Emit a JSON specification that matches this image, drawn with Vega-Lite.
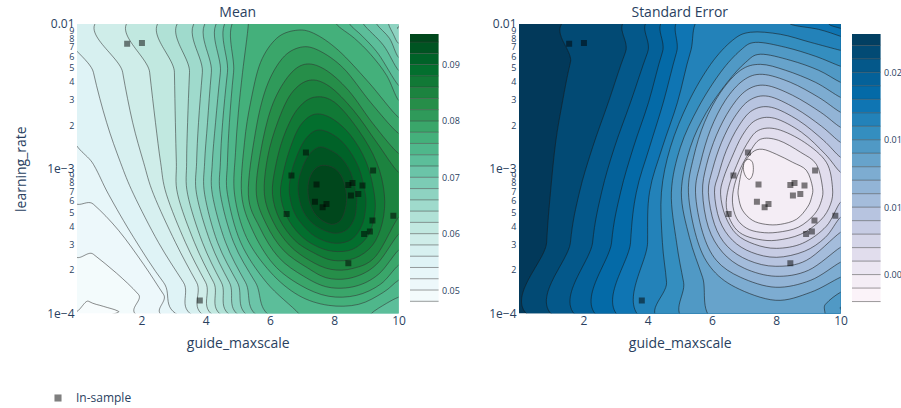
{
"$schema": "https://vega.github.io/schema/vega-lite/v6.json",
"padding": {"left": 14, "top": 6, "right": 5, "bottom": 5},
"background": "white",
"config": {"font": "Open Sans", "view": {"stroke": null}, "axis": {"labelOverlap": false}, "title": {"font": "Open Sans", "fontSize": 14, "fontWeight": "normal", "color": "#2a3f5f", "baseline": "alphabetic", "offset": -2}},
"datasets": {
"pts": [
{"x":1.56,"e":-2.136},{"x":2.02,"e":-2.131},{"x":7.12,"e":-2.889},{"x":6.67,"e":-3.048},{"x":7.45,"e":-3.110},{"x":8.44,"e":-3.113},{"x":8.57,"e":-3.099},{"x":8.88,"e":-3.117},{"x":8.52,"e":-3.186},{"x":8.75,"e":-3.175},{"x":7.40,"e":-3.228},{"x":7.64,"e":-3.267},{"x":7.76,"e":-3.244},{"x":6.52,"e":-3.314},{"x":9.21,"e":-3.013},{"x":9.84,"e":-3.325},{"x":9.19,"e":-3.359},{"x":8.93,"e":-3.452},{"x":9.11,"e":-3.435},{"x":8.44,"e":-3.654},{"x":3.82,"e":-3.912}
],
"mc": [
{"L":0.048,"k":0,"x":-0.26,"e":-3.820},{"L":0.048,"k":1,"x":0.36,"e":-3.917},{"L":0.048,"k":2,"x":0.82,"e":-3.952},{"L":0.048,"k":3,"x":1.29,"e":-3.986},{"L":0.048,"k":4,"x":1.66,"e":-4.048},{"L":0.048,"k":5,"x":10.31,"e":-4.062},{"L":0.048,"k":6,"x":10.31,"e":-1.933},{"L":0.048,"k":7,"x":-0.26,"e":-1.933},
{"L":0.050,"k":0,"x":-0.26,"e":-3.461},{"L":0.050,"k":1,"x":0.51,"e":-3.592},{"L":0.050,"k":2,"x":1.23,"e":-3.723},{"L":0.050,"k":3,"x":1.91,"e":-3.869},{"L":0.050,"k":4,"x":2.53,"e":-4.048},{"L":0.050,"k":5,"x":10.31,"e":-4.062},{"L":0.050,"k":6,"x":10.31,"e":-1.933},{"L":0.050,"k":7,"x":-0.26,"e":-1.933},
{"L":0.052,"k":0,"x":-0.26,"e":-3.122},{"L":0.052,"k":1,"x":0.51,"e":-3.246},{"L":0.052,"k":2,"x":1.29,"e":-3.426},{"L":0.052,"k":3,"x":2.07,"e":-3.661},{"L":0.052,"k":4,"x":2.69,"e":-3.869},{"L":0.052,"k":5,"x":3.25,"e":-4.048},{"L":0.052,"k":6,"x":10.31,"e":-4.062},{"L":0.052,"k":7,"x":10.31,"e":-1.933},{"L":0.052,"k":8,"x":-0.26,"e":-1.933},
{"L":0.054,"k":0,"x":-0.26,"e":-2.700},{"L":0.054,"k":1,"x":0.51,"e":-2.970},{"L":0.054,"k":2,"x":0.98,"e":-3.177},{"L":0.054,"k":3,"x":1.76,"e":-3.475},{"L":0.054,"k":4,"x":2.69,"e":-3.786},{"L":0.054,"k":5,"x":3.72,"e":-4.048},{"L":0.054,"k":6,"x":10.31,"e":-4.062},{"L":0.054,"k":7,"x":10.31,"e":-1.933},{"L":0.054,"k":8,"x":-0.26,"e":-1.933},
{"L":0.056,"k":0,"x":0.17,"e":-1.933},{"L":0.056,"k":1,"x":0.51,"e":-2.334},{"L":0.056,"k":2,"x":0.92,"e":-2.680},{"L":0.056,"k":3,"x":1.35,"e":-2.956},{"L":0.056,"k":4,"x":1.76,"e":-3.177},{"L":0.056,"k":5,"x":2.53,"e":-3.509},{"L":0.056,"k":6,"x":3.31,"e":-3.786},{"L":0.056,"k":7,"x":4.09,"e":-4.048},{"L":0.056,"k":8,"x":10.31,"e":-4.062},{"L":0.056,"k":9,"x":10.31,"e":-1.933},
{"L":0.058,"k":0,"x":1.14,"e":-1.933},{"L":0.058,"k":1,"x":1.42,"e":-2.334},{"L":0.058,"k":2,"x":1.73,"e":-2.680},{"L":0.058,"k":3,"x":2.07,"e":-2.956},{"L":0.058,"k":4,"x":2.38,"e":-3.177},{"L":0.058,"k":5,"x":3.06,"e":-3.509},{"L":0.058,"k":6,"x":3.72,"e":-3.786},{"L":0.058,"k":7,"x":4.40,"e":-4.048},{"L":0.058,"k":8,"x":10.31,"e":-4.062},{"L":0.058,"k":9,"x":10.31,"e":-1.933},
{"L":0.060,"k":0,"x":2.07,"e":-1.933},{"L":0.060,"k":1,"x":2.26,"e":-2.334},{"L":0.060,"k":2,"x":2.44,"e":-2.680},{"L":0.060,"k":3,"x":2.60,"e":-2.956},{"L":0.060,"k":4,"x":2.78,"e":-3.177},{"L":0.060,"k":5,"x":3.37,"e":-3.509},{"L":0.060,"k":6,"x":4.00,"e":-3.786},{"L":0.060,"k":7,"x":4.68,"e":-4.048},{"L":0.060,"k":8,"x":10.31,"e":-4.062},{"L":0.060,"k":9,"x":10.31,"e":-1.933},
{"L":0.062,"k":0,"x":3.00,"e":-1.933},{"L":0.062,"k":1,"x":3.03,"e":-2.334},{"L":0.062,"k":2,"x":3.06,"e":-2.680},{"L":0.062,"k":3,"x":3.09,"e":-2.956},{"L":0.062,"k":4,"x":3.13,"e":-3.177},{"L":0.062,"k":5,"x":3.65,"e":-3.509},{"L":0.062,"k":6,"x":4.25,"e":-3.786},{"L":0.062,"k":7,"x":4.93,"e":-4.048},{"L":0.062,"k":8,"x":10.31,"e":-4.062},{"L":0.062,"k":9,"x":10.31,"e":-1.933},
{"L":0.064,"k":0,"x":3.59,"e":-1.933},{"L":0.064,"k":1,"x":3.50,"e":-2.334},{"L":0.064,"k":2,"x":3.44,"e":-2.680},{"L":0.064,"k":3,"x":3.41,"e":-2.956},{"L":0.064,"k":4,"x":3.44,"e":-3.177},{"L":0.064,"k":5,"x":3.90,"e":-3.509},{"L":0.064,"k":6,"x":4.49,"e":-3.786},{"L":0.064,"k":7,"x":5.18,"e":-4.048},{"L":0.064,"k":8,"x":10.31,"e":-4.062},{"L":0.064,"k":9,"x":10.31,"e":-1.933},
{"L":0.066,"k":0,"x":4.06,"e":-1.933},{"L":0.066,"k":1,"x":3.90,"e":-2.334},{"L":0.066,"k":2,"x":3.78,"e":-2.680},{"L":0.066,"k":3,"x":3.72,"e":-2.956},{"L":0.066,"k":4,"x":3.72,"e":-3.177},{"L":0.066,"k":5,"x":4.15,"e":-3.509},{"L":0.066,"k":6,"x":4.74,"e":-3.786},{"L":0.066,"k":7,"x":5.43,"e":-4.048},{"L":0.066,"k":8,"x":10.31,"e":-4.062},{"L":0.066,"k":9,"x":10.31,"e":-2.057},{"L":0.066,"k":10,"x":9.97,"e":-2.030},{"L":0.066,"k":11,"x":9.91,"e":-1.933},
{"L":0.068,"k":0,"x":4.37,"e":-1.933},{"L":0.068,"k":1,"x":4.18,"e":-2.334},{"L":0.068,"k":2,"x":4.06,"e":-2.680},{"L":0.068,"k":3,"x":3.97,"e":-2.956},{"L":0.068,"k":4,"x":3.97,"e":-3.177},{"L":0.068,"k":5,"x":4.37,"e":-3.509},{"L":0.068,"k":6,"x":4.99,"e":-3.786},{"L":0.068,"k":7,"x":5.68,"e":-4.048},{"L":0.068,"k":8,"x":10.31,"e":-4.062},{"L":0.068,"k":9,"x":10.31,"e":-2.147},{"L":0.068,"k":10,"x":10.0,"e":-2.133},{"L":0.068,"k":11,"x":9.84,"e":-2.071},{"L":0.068,"k":12,"x":9.69,"e":-2.0},{"L":0.068,"k":13,"x":9.66,"e":-1.933},
{"L":0.070,"k":0,"x":4.68,"e":-1.933},{"L":0.070,"k":1,"x":4.46,"e":-2.334},{"L":0.070,"k":2,"x":4.31,"e":-2.680},{"L":0.070,"k":3,"x":4.21,"e":-2.956},{"L":0.070,"k":4,"x":4.21,"e":-3.177},{"L":0.070,"k":5,"x":4.62,"e":-3.509},{"L":0.070,"k":6,"x":5.24,"e":-3.786},{"L":0.070,"k":7,"x":5.96,"e":-4.048},{"L":0.070,"k":8,"x":10.31,"e":-4.062},{"L":0.070,"k":9,"x":10.31,"e":-2.244},{"L":0.070,"k":10,"x":10.0,"e":-2.230},{"L":0.070,"k":11,"x":9.72,"e":-2.099},{"L":0.070,"k":12,"x":9.32,"e":-2.0},{"L":0.070,"k":13,"x":9.29,"e":-1.933},
{"L":0.072,"k":0,"x":4.90,"e":-1.933},{"L":0.072,"k":1,"x":4.68,"e":-2.334},{"L":0.072,"k":2,"x":4.53,"e":-2.680},{"L":0.072,"k":3,"x":4.46,"e":-2.956},{"L":0.072,"k":4,"x":4.46,"e":-3.177},{"L":0.072,"k":5,"x":4.87,"e":-3.509},{"L":0.072,"k":6,"x":5.55,"e":-3.786},{"L":0.072,"k":7,"x":6.33,"e":-4.048},{"L":0.072,"k":8,"x":10.31,"e":-4.062},{"L":0.072,"k":9,"x":10.31,"e":-2.334},{"L":0.072,"k":10,"x":10.0,"e":-2.320},{"L":0.072,"k":11,"x":9.53,"e":-2.147},{"L":0.072,"k":12,"x":8.91,"e":-2.0},{"L":0.072,"k":13,"x":8.88,"e":-1.933},
{"L":0.074,"k":0,"x":5.09,"e":-1.933},{"L":0.074,"k":1,"x":4.87,"e":-2.334},{"L":0.074,"k":2,"x":4.74,"e":-2.680},{"L":0.074,"k":3,"x":4.68,"e":-2.956},{"L":0.074,"k":4,"x":4.68,"e":-3.177},{"L":0.074,"k":5,"x":5.09,"e":-3.509},{"L":0.074,"k":6,"x":5.89,"e":-3.786},{"L":0.074,"k":7,"x":6.89,"e":-4.0},{"L":0.074,"k":8,"x":6.98,"e":-4.062},{"L":0.074,"k":9,"x":9.00,"e":-4.062},{"L":0.074,"k":10,"x":9.16,"e":-4.0},{"L":0.074,"k":11,"x":9.63,"e":-3.931},{"L":0.074,"k":12,"x":10.0,"e":-3.889},{"L":0.074,"k":13,"x":10.31,"e":-3.875},{"L":0.074,"k":14,"x":10.31,"e":-2.438},{"L":0.074,"k":15,"x":10.0,"e":-2.424},{"L":0.074,"k":16,"x":9.38,"e":-2.209},{"L":0.074,"k":17,"x":8.88,"e":-2.085},{"L":0.074,"k":18,"x":8.48,"e":-2.0},{"L":0.074,"k":19,"x":8.44,"e":-1.933},
{"L":0.076,"k":0,"x":5.27,"e":-1.933},{"L":0.076,"k":1,"x":8.13,"e":-1.933},{"L":0.076,"k":2,"x":8.07,"e":-2.0},{"L":0.076,"k":3,"x":8.63,"e":-2.099},{"L":0.076,"k":4,"x":9.13,"e":-2.209},{"L":0.076,"k":5,"x":9.63,"e":-2.355},{"L":0.076,"k":6,"x":10.0,"e":-2.527},{"L":0.076,"k":7,"x":10.31,"e":-2.541},{"L":0.076,"k":8,"x":10.31,"e":-3.758},{"L":0.076,"k":9,"x":10.0,"e":-3.772},{"L":0.076,"k":10,"x":9.53,"e":-3.855},{"L":0.076,"k":11,"x":8.76,"e":-3.938},{"L":0.076,"k":12,"x":7.82,"e":-3.945},{"L":0.076,"k":13,"x":6.89,"e":-3.876},{"L":0.076,"k":14,"x":6.02,"e":-3.716},{"L":0.076,"k":15,"x":5.27,"e":-3.475},{"L":0.076,"k":16,"x":4.90,"e":-3.177},{"L":0.076,"k":17,"x":4.93,"e":-2.887},{"L":0.076,"k":18,"x":5.02,"e":-2.610},{"L":0.076,"k":19,"x":5.15,"e":-2.334},{"L":0.076,"k":20,"x":5.33,"e":-2.0},
{"L":0.078,"k":0,"x":10.31,"e":-2.631},{"L":0.078,"k":1,"x":10.0,"e":-2.645},{"L":0.078,"k":2,"x":9.07,"e":-2.403},{"L":0.078,"k":3,"x":8.13,"e":-2.182},{"L":0.078,"k":4,"x":7.36,"e":-2.064},{"L":0.078,"k":5,"x":6.80,"e":-2.044},{"L":0.078,"k":6,"x":6.21,"e":-2.099},{"L":0.078,"k":7,"x":5.71,"e":-2.265},{"L":0.078,"k":8,"x":5.40,"e":-2.541},{"L":0.078,"k":9,"x":5.21,"e":-2.818},{"L":0.078,"k":10,"x":5.12,"e":-3.177},{"L":0.078,"k":11,"x":5.46,"e":-3.426},{"L":0.078,"k":12,"x":6.11,"e":-3.661},{"L":0.078,"k":13,"x":6.95,"e":-3.806},{"L":0.078,"k":14,"x":7.82,"e":-3.882},{"L":0.078,"k":15,"x":8.69,"e":-3.876},{"L":0.078,"k":16,"x":9.44,"e":-3.799},{"L":0.078,"k":17,"x":10.0,"e":-3.668},{"L":0.078,"k":18,"x":10.31,"e":-3.654},
{"L":0.080,"k":0,"x":10.31,"e":-2.742},{"L":0.080,"k":1,"x":10.0,"e":-2.756},{"L":0.080,"k":2,"x":9.13,"e":-2.541},{"L":0.080,"k":3,"x":8.29,"e":-2.306},{"L":0.080,"k":4,"x":7.51,"e":-2.182},{"L":0.080,"k":5,"x":6.95,"e":-2.161},{"L":0.080,"k":6,"x":6.39,"e":-2.237},{"L":0.080,"k":7,"x":5.89,"e":-2.438},{"L":0.080,"k":8,"x":5.55,"e":-2.749},{"L":0.080,"k":9,"x":5.33,"e":-3.177},{"L":0.080,"k":10,"x":5.68,"e":-3.405},{"L":0.080,"k":11,"x":6.27,"e":-3.613},{"L":0.080,"k":12,"x":7.05,"e":-3.744},{"L":0.080,"k":13,"x":7.82,"e":-3.820},{"L":0.080,"k":14,"x":8.66,"e":-3.813},{"L":0.080,"k":15,"x":9.38,"e":-3.730},{"L":0.080,"k":16,"x":10.0,"e":-3.564},{"L":0.080,"k":17,"x":10.31,"e":-3.551},
{"L":0.082,"k":0,"x":10.31,"e":-2.880},{"L":0.082,"k":1,"x":10.0,"e":-2.894},{"L":0.082,"k":2,"x":9.22,"e":-2.693},{"L":0.082,"k":3,"x":8.44,"e":-2.458},{"L":0.082,"k":4,"x":7.70,"e":-2.313},{"L":0.082,"k":5,"x":7.08,"e":-2.279},{"L":0.082,"k":6,"x":6.55,"e":-2.368},{"L":0.082,"k":7,"x":6.05,"e":-2.576},{"L":0.082,"k":8,"x":5.71,"e":-2.887},{"L":0.082,"k":9,"x":5.58,"e":-3.177},{"L":0.082,"k":10,"x":5.89,"e":-3.385},{"L":0.082,"k":11,"x":6.42,"e":-3.564},{"L":0.082,"k":12,"x":7.14,"e":-3.682},{"L":0.082,"k":13,"x":7.82,"e":-3.758},{"L":0.082,"k":14,"x":8.60,"e":-3.751},{"L":0.082,"k":15,"x":9.32,"e":-3.661},{"L":0.082,"k":16,"x":10.0,"e":-3.454},{"L":0.082,"k":17,"x":10.31,"e":-3.440},
{"L":0.084,"k":0,"x":10.31,"e":-3.012},{"L":0.084,"k":1,"x":10.0,"e":-3.025},{"L":0.084,"k":2,"x":9.32,"e":-2.818},{"L":0.084,"k":3,"x":8.60,"e":-2.597},{"L":0.084,"k":4,"x":7.85,"e":-2.431},{"L":0.084,"k":5,"x":7.23,"e":-2.389},{"L":0.084,"k":6,"x":6.67,"e":-2.479},{"L":0.084,"k":7,"x":6.24,"e":-2.680},{"L":0.084,"k":8,"x":5.93,"e":-2.921},{"L":0.084,"k":9,"x":5.83,"e":-3.177},{"L":0.084,"k":10,"x":6.11,"e":-3.371},{"L":0.084,"k":11,"x":6.61,"e":-3.530},{"L":0.084,"k":12,"x":7.23,"e":-3.634},{"L":0.084,"k":13,"x":7.89,"e":-3.696},{"L":0.084,"k":14,"x":8.60,"e":-3.689},{"L":0.084,"k":15,"x":9.29,"e":-3.606},{"L":0.084,"k":16,"x":10.0,"e":-3.336},{"L":0.084,"k":17,"x":10.31,"e":-3.322},
{"L":0.086,"k":0,"x":9.56,"e":-3.177},{"L":0.086,"k":1,"x":9.32,"e":-2.956},{"L":0.086,"k":2,"x":8.76,"e":-2.735},{"L":0.086,"k":3,"x":8.01,"e":-2.541},{"L":0.086,"k":4,"x":7.36,"e":-2.507},{"L":0.086,"k":5,"x":6.83,"e":-2.597},{"L":0.086,"k":6,"x":6.42,"e":-2.783},{"L":0.086,"k":7,"x":6.17,"e":-2.991},{"L":0.086,"k":8,"x":6.08,"e":-3.177},{"L":0.086,"k":9,"x":6.30,"e":-3.350},{"L":0.086,"k":10,"x":6.77,"e":-3.495},{"L":0.086,"k":11,"x":7.33,"e":-3.578},{"L":0.086,"k":12,"x":7.95,"e":-3.634},{"L":0.086,"k":13,"x":8.63,"e":-3.620},{"L":0.086,"k":14,"x":9.19,"e":-3.530},{"L":0.086,"k":15,"x":9.50,"e":-3.371},
{"L":0.088,"k":0,"x":9.25,"e":-3.177},{"L":0.088,"k":1,"x":9.00,"e":-2.956},{"L":0.088,"k":2,"x":8.51,"e":-2.769},{"L":0.088,"k":3,"x":7.92,"e":-2.652},{"L":0.088,"k":4,"x":7.39,"e":-2.624},{"L":0.088,"k":5,"x":6.95,"e":-2.700},{"L":0.088,"k":6,"x":6.64,"e":-2.852},{"L":0.088,"k":7,"x":6.42,"e":-3.025},{"L":0.088,"k":8,"x":6.33,"e":-3.177},{"L":0.088,"k":9,"x":6.52,"e":-3.329},{"L":0.088,"k":10,"x":6.92,"e":-3.454},{"L":0.088,"k":11,"x":7.39,"e":-3.530},{"L":0.088,"k":12,"x":7.95,"e":-3.571},{"L":0.088,"k":13,"x":8.57,"e":-3.558},{"L":0.088,"k":14,"x":9.04,"e":-3.468},{"L":0.088,"k":15,"x":9.25,"e":-3.329},
{"L":0.090,"k":0,"x":8.97,"e":-3.177},{"L":0.090,"k":1,"x":8.76,"e":-2.991},{"L":0.090,"k":2,"x":8.35,"e":-2.839},{"L":0.090,"k":3,"x":7.89,"e":-2.756},{"L":0.090,"k":4,"x":7.45,"e":-2.735},{"L":0.090,"k":5,"x":7.08,"e":-2.804},{"L":0.090,"k":6,"x":6.80,"e":-2.935},{"L":0.090,"k":7,"x":6.64,"e":-3.060},{"L":0.090,"k":8,"x":6.61,"e":-3.177},{"L":0.090,"k":9,"x":6.77,"e":-3.308},{"L":0.090,"k":10,"x":7.11,"e":-3.412},{"L":0.090,"k":11,"x":7.51,"e":-3.482},{"L":0.090,"k":12,"x":8.04,"e":-3.516},{"L":0.090,"k":13,"x":8.54,"e":-3.489},{"L":0.090,"k":14,"x":8.85,"e":-3.398},{"L":0.090,"k":15,"x":8.97,"e":-3.287},
{"L":0.092,"k":0,"x":8.69,"e":-3.177},{"L":0.092,"k":1,"x":8.51,"e":-3.025},{"L":0.092,"k":2,"x":8.20,"e":-2.921},{"L":0.092,"k":3,"x":7.82,"e":-2.866},{"L":0.092,"k":4,"x":7.51,"e":-2.852},{"L":0.092,"k":5,"x":7.20,"e":-2.908},{"L":0.092,"k":6,"x":6.98,"e":-3.012},{"L":0.092,"k":7,"x":6.89,"e":-3.094},{"L":0.092,"k":8,"x":6.89,"e":-3.177},{"L":0.092,"k":9,"x":7.01,"e":-3.281},{"L":0.092,"k":10,"x":7.26,"e":-3.364},{"L":0.092,"k":11,"x":7.61,"e":-3.419},{"L":0.092,"k":12,"x":8.04,"e":-3.447},{"L":0.092,"k":13,"x":8.41,"e":-3.419},{"L":0.092,"k":14,"x":8.63,"e":-3.343},{"L":0.092,"k":15,"x":8.69,"e":-3.260},
{"L":0.094,"k":0,"x":8.38,"e":-3.177},{"L":0.094,"k":1,"x":8.26,"e":-3.067},{"L":0.094,"k":2,"x":8.01,"e":-2.998},{"L":0.094,"k":3,"x":7.64,"e":-2.977},{"L":0.094,"k":4,"x":7.36,"e":-3.012},{"L":0.094,"k":5,"x":7.20,"e":-3.094},{"L":0.094,"k":6,"x":7.20,"e":-3.198},{"L":0.094,"k":7,"x":7.33,"e":-3.287},{"L":0.094,"k":8,"x":7.57,"e":-3.350},{"L":0.094,"k":9,"x":7.92,"e":-3.385},{"L":0.094,"k":10,"x":8.20,"e":-3.357},{"L":0.094,"k":11,"x":8.35,"e":-3.274}
],
"sc": [
{"L":0.022,"k":0,"x":2.01,"e":-1.933},{"L":0.022,"k":1,"x":1.60,"e":-2.265},{"L":0.022,"k":2,"x":1.35,"e":-2.541},{"L":0.022,"k":3,"x":1.14,"e":-2.818},{"L":0.022,"k":4,"x":0.98,"e":-3.163},{"L":0.022,"k":5,"x":0.86,"e":-3.509},{"L":0.022,"k":6,"x":0.76,"e":-4.062},{"L":0.022,"k":7,"x":10.31,"e":-4.062},{"L":0.022,"k":8,"x":10.31,"e":-1.933},
{"L":0.021,"k":0,"x":3.84,"e":-1.933},{"L":0.021,"k":1,"x":3.31,"e":-2.196},{"L":0.021,"k":2,"x":2.78,"e":-2.541},{"L":0.021,"k":3,"x":2.29,"e":-2.852},{"L":0.021,"k":4,"x":1.88,"e":-3.163},{"L":0.021,"k":5,"x":1.60,"e":-3.509},{"L":0.021,"k":6,"x":1.48,"e":-4.062},{"L":0.021,"k":7,"x":10.31,"e":-4.062},{"L":0.021,"k":8,"x":10.31,"e":-1.933},
{"L":0.020,"k":0,"x":4.49,"e":-1.933},{"L":0.020,"k":1,"x":4.00,"e":-2.196},{"L":0.020,"k":2,"x":3.47,"e":-2.541},{"L":0.020,"k":3,"x":2.97,"e":-2.852},{"L":0.020,"k":4,"x":2.57,"e":-3.163},{"L":0.020,"k":5,"x":2.29,"e":-3.509},{"L":0.020,"k":6,"x":2.16,"e":-4.062},{"L":0.020,"k":7,"x":10.31,"e":-4.062},{"L":0.020,"k":8,"x":10.31,"e":-1.933},
{"L":0.019,"k":0,"x":4.93,"e":-1.933},{"L":0.019,"k":1,"x":4.46,"e":-2.196},{"L":0.019,"k":2,"x":4.03,"e":-2.541},{"L":0.019,"k":3,"x":3.56,"e":-2.852},{"L":0.019,"k":4,"x":3.16,"e":-3.163},{"L":0.019,"k":5,"x":2.88,"e":-3.509},{"L":0.019,"k":6,"x":2.78,"e":-4.062},{"L":0.019,"k":7,"x":10.31,"e":-4.062},{"L":0.019,"k":8,"x":10.31,"e":-1.933},
{"L":0.018,"k":0,"x":5.30,"e":-1.933},{"L":0.018,"k":1,"x":4.90,"e":-2.196},{"L":0.018,"k":2,"x":4.49,"e":-2.541},{"L":0.018,"k":3,"x":4.06,"e":-2.852},{"L":0.018,"k":4,"x":3.65,"e":-3.163},{"L":0.018,"k":5,"x":3.47,"e":-3.509},{"L":0.018,"k":6,"x":3.41,"e":-4.062},{"L":0.018,"k":7,"x":10.31,"e":-4.062},{"L":0.018,"k":8,"x":10.31,"e":-2.057},{"L":0.018,"k":9,"x":10.0,"e":-2.030},{"L":0.018,"k":10,"x":9.63,"e":-2.0},{"L":0.018,"k":11,"x":9.59,"e":-1.933},
{"L":0.017,"k":0,"x":5.80,"e":-1.933},{"L":0.017,"k":1,"x":5.33,"e":-2.196},{"L":0.017,"k":2,"x":4.93,"e":-2.541},{"L":0.017,"k":3,"x":4.46,"e":-2.852},{"L":0.017,"k":4,"x":4.06,"e":-3.163},{"L":0.017,"k":5,"x":4.00,"e":-3.509},{"L":0.017,"k":6,"x":4.03,"e":-4.062},{"L":0.017,"k":7,"x":10.31,"e":-4.062},{"L":0.017,"k":8,"x":10.31,"e":-2.113},{"L":0.017,"k":9,"x":10.0,"e":-2.085},{"L":0.017,"k":10,"x":9.32,"e":-2.037},{"L":0.017,"k":11,"x":8.44,"e":-2.0},{"L":0.017,"k":12,"x":8.41,"e":-1.933},
{"L":0.016,"k":0,"x":4.65,"e":-4.062},{"L":0.016,"k":1,"x":4.59,"e":-3.786},{"L":0.016,"k":2,"x":4.46,"e":-3.509},{"L":0.016,"k":3,"x":4.43,"e":-3.163},{"L":0.016,"k":4,"x":4.71,"e":-2.852},{"L":0.016,"k":5,"x":5.27,"e":-2.541},{"L":0.016,"k":6,"x":5.96,"e":-2.279},{"L":0.016,"k":7,"x":6.64,"e":-2.113},{"L":0.016,"k":8,"x":7.20,"e":-2.057},{"L":0.016,"k":9,"x":8.13,"e":-2.071},{"L":0.016,"k":10,"x":9.07,"e":-2.127},{"L":0.016,"k":11,"x":10.0,"e":-2.182},{"L":0.016,"k":12,"x":10.31,"e":-2.196},{"L":0.016,"k":13,"x":10.31,"e":-4.062},
{"L":0.015,"k":0,"x":5.37,"e":-4.062},{"L":0.015,"k":1,"x":5.12,"e":-3.786},{"L":0.015,"k":2,"x":4.90,"e":-3.509},{"L":0.015,"k":3,"x":4.74,"e":-3.163},{"L":0.015,"k":4,"x":5.02,"e":-2.852},{"L":0.015,"k":5,"x":5.58,"e":-2.576},{"L":0.015,"k":6,"x":6.27,"e":-2.334},{"L":0.015,"k":7,"x":6.89,"e":-2.182},{"L":0.015,"k":8,"x":7.36,"e":-2.127},{"L":0.015,"k":9,"x":8.29,"e":-2.161},{"L":0.015,"k":10,"x":9.22,"e":-2.223},{"L":0.015,"k":11,"x":10.0,"e":-2.292},{"L":0.015,"k":12,"x":10.31,"e":-2.306},{"L":0.015,"k":13,"x":10.31,"e":-3.945},{"L":0.015,"k":14,"x":10.0,"e":-3.958},{"L":0.015,"k":15,"x":9.78,"e":-4.062},
{"L":0.014,"k":0,"x":6.17,"e":-4.062},{"L":0.014,"k":1,"x":5.71,"e":-3.751},{"L":0.014,"k":2,"x":5.30,"e":-3.475},{"L":0.014,"k":3,"x":5.05,"e":-3.163},{"L":0.014,"k":4,"x":5.33,"e":-2.852},{"L":0.014,"k":5,"x":5.83,"e":-2.610},{"L":0.014,"k":6,"x":6.48,"e":-2.403},{"L":0.014,"k":7,"x":7.05,"e":-2.265},{"L":0.014,"k":8,"x":7.51,"e":-2.209},{"L":0.014,"k":9,"x":8.44,"e":-2.251},{"L":0.014,"k":10,"x":9.32,"e":-2.320},{"L":0.014,"k":11,"x":10.0,"e":-2.403},{"L":0.014,"k":12,"x":10.31,"e":-2.417},{"L":0.014,"k":13,"x":10.31,"e":-3.841},{"L":0.014,"k":14,"x":10.0,"e":-3.855},{"L":0.014,"k":15,"x":9.53,"e":-3.938},{"L":0.014,"k":16,"x":9.19,"e":-4.062},
{"L":0.013,"k":0,"x":5.27,"e":-3.163},{"L":0.013,"k":1,"x":5.43,"e":-2.921},{"L":0.013,"k":2,"x":5.77,"e":-2.680},{"L":0.013,"k":3,"x":6.27,"e":-2.472},{"L":0.013,"k":4,"x":6.89,"e":-2.320},{"L":0.013,"k":5,"x":7.51,"e":-2.279},{"L":0.013,"k":6,"x":8.29,"e":-2.320},{"L":0.013,"k":7,"x":9.22,"e":-2.403},{"L":0.013,"k":8,"x":10.0,"e":-2.507},{"L":0.013,"k":9,"x":10.31,"e":-2.520},{"L":0.013,"k":10,"x":10.31,"e":-3.737},{"L":0.013,"k":11,"x":10.0,"e":-3.751},{"L":0.013,"k":12,"x":9.07,"e":-3.855},{"L":0.013,"k":13,"x":7.98,"e":-3.910},{"L":0.013,"k":14,"x":6.73,"e":-3.820},{"L":0.013,"k":15,"x":5.96,"e":-3.682},{"L":0.013,"k":16,"x":5.52,"e":-3.475},
{"L":0.012,"k":0,"x":5.49,"e":-3.163},{"L":0.012,"k":1,"x":5.65,"e":-2.956},{"L":0.012,"k":2,"x":5.96,"e":-2.728},{"L":0.012,"k":3,"x":6.42,"e":-2.527},{"L":0.012,"k":4,"x":6.98,"e":-2.389},{"L":0.012,"k":5,"x":7.57,"e":-2.348},{"L":0.012,"k":6,"x":8.44,"e":-2.403},{"L":0.012,"k":7,"x":9.32,"e":-2.507},{"L":0.012,"k":8,"x":10.0,"e":-2.610},{"L":0.012,"k":9,"x":10.31,"e":-2.624},{"L":0.012,"k":10,"x":10.31,"e":-3.634},{"L":0.012,"k":11,"x":10.0,"e":-3.647},{"L":0.012,"k":12,"x":9.07,"e":-3.772},{"L":0.012,"k":13,"x":7.98,"e":-3.820},{"L":0.012,"k":14,"x":6.89,"e":-3.751},{"L":0.012,"k":15,"x":6.14,"e":-3.634},{"L":0.012,"k":16,"x":5.71,"e":-3.440},
{"L":0.011,"k":0,"x":5.71,"e":-3.163},{"L":0.011,"k":1,"x":5.83,"e":-2.977},{"L":0.011,"k":2,"x":6.14,"e":-2.769},{"L":0.011,"k":3,"x":6.58,"e":-2.583},{"L":0.011,"k":4,"x":7.08,"e":-2.458},{"L":0.011,"k":5,"x":7.67,"e":-2.424},{"L":0.011,"k":6,"x":8.51,"e":-2.493},{"L":0.011,"k":7,"x":9.38,"e":-2.610},{"L":0.011,"k":8,"x":10.0,"e":-2.714},{"L":0.011,"k":9,"x":10.31,"e":-2.728},{"L":0.011,"k":10,"x":10.31,"e":-3.530},{"L":0.011,"k":11,"x":10.0,"e":-3.544},{"L":0.011,"k":12,"x":9.00,"e":-3.703},{"L":0.011,"k":13,"x":7.98,"e":-3.744},{"L":0.011,"k":14,"x":7.01,"e":-3.689},{"L":0.011,"k":15,"x":6.33,"e":-3.578},{"L":0.011,"k":16,"x":5.89,"e":-3.405},
{"L":0.010,"k":0,"x":5.89,"e":-3.163},{"L":0.010,"k":1,"x":6.02,"e":-3.005},{"L":0.010,"k":2,"x":6.30,"e":-2.818},{"L":0.010,"k":3,"x":6.70,"e":-2.645},{"L":0.010,"k":4,"x":7.17,"e":-2.527},{"L":0.010,"k":5,"x":7.76,"e":-2.500},{"L":0.010,"k":6,"x":8.60,"e":-2.583},{"L":0.010,"k":7,"x":9.41,"e":-2.707},{"L":0.010,"k":8,"x":10.0,"e":-2.818},{"L":0.010,"k":9,"x":10.31,"e":-2.832},{"L":0.010,"k":10,"x":10.31,"e":-3.426},{"L":0.010,"k":11,"x":10.0,"e":-3.440},{"L":0.010,"k":12,"x":8.94,"e":-3.634},{"L":0.010,"k":13,"x":7.98,"e":-3.675},{"L":0.010,"k":14,"x":7.14,"e":-3.634},{"L":0.010,"k":15,"x":6.48,"e":-3.537},{"L":0.010,"k":16,"x":6.08,"e":-3.385},
{"L":0.009,"k":0,"x":6.08,"e":-3.163},{"L":0.009,"k":1,"x":6.21,"e":-3.039},{"L":0.009,"k":2,"x":6.45,"e":-2.873},{"L":0.009,"k":3,"x":6.83,"e":-2.707},{"L":0.009,"k":4,"x":7.26,"e":-2.597},{"L":0.009,"k":5,"x":7.85,"e":-2.576},{"L":0.009,"k":6,"x":8.69,"e":-2.666},{"L":0.009,"k":7,"x":9.47,"e":-2.804},{"L":0.009,"k":8,"x":10.0,"e":-2.921},{"L":0.009,"k":9,"x":10.31,"e":-2.935},{"L":0.009,"k":10,"x":10.31,"e":-3.322},{"L":0.009,"k":11,"x":10.0,"e":-3.336},{"L":0.009,"k":12,"x":9.53,"e":-3.475},{"L":0.009,"k":13,"x":8.88,"e":-3.571},{"L":0.009,"k":14,"x":8.01,"e":-3.613},{"L":0.009,"k":15,"x":7.23,"e":-3.578},{"L":0.009,"k":16,"x":6.64,"e":-3.495},{"L":0.009,"k":17,"x":6.24,"e":-3.357},
{"L":0.008,"k":0,"x":6.27,"e":-3.177},{"L":0.008,"k":1,"x":6.36,"e":-3.067},{"L":0.008,"k":2,"x":6.61,"e":-2.928},{"L":0.008,"k":3,"x":6.95,"e":-2.769},{"L":0.008,"k":4,"x":7.36,"e":-2.666},{"L":0.008,"k":5,"x":7.95,"e":-2.652},{"L":0.008,"k":6,"x":8.79,"e":-2.749},{"L":0.008,"k":7,"x":9.53,"e":-2.901},{"L":0.008,"k":8,"x":10.0,"e":-3.025},{"L":0.008,"k":9,"x":10.31,"e":-3.039},{"L":0.008,"k":10,"x":10.31,"e":-3.219},{"L":0.008,"k":11,"x":10.0,"e":-3.232},{"L":0.008,"k":12,"x":9.56,"e":-3.398},{"L":0.008,"k":13,"x":8.82,"e":-3.516},{"L":0.008,"k":14,"x":8.01,"e":-3.551},{"L":0.008,"k":15,"x":7.33,"e":-3.523},{"L":0.008,"k":16,"x":6.77,"e":-3.454},{"L":0.008,"k":17,"x":6.42,"e":-3.329},
{"L":0.007,"k":0,"x":6.52,"e":-3.129},{"L":0.007,"k":1,"x":6.77,"e":-2.977},{"L":0.007,"k":2,"x":7.08,"e":-2.832},{"L":0.007,"k":3,"x":7.45,"e":-2.735},{"L":0.007,"k":4,"x":8.04,"e":-2.728},{"L":0.007,"k":5,"x":8.88,"e":-2.818},{"L":0.007,"k":6,"x":9.56,"e":-2.956},{"L":0.007,"k":7,"x":9.75,"e":-3.129},{"L":0.007,"k":8,"x":9.69,"e":-3.246},{"L":0.007,"k":9,"x":9.38,"e":-3.357},{"L":0.007,"k":10,"x":8.76,"e":-3.454},{"L":0.007,"k":11,"x":8.01,"e":-3.495},{"L":0.007,"k":12,"x":7.45,"e":-3.489},{"L":0.007,"k":13,"x":6.95,"e":-3.454},{"L":0.007,"k":14,"x":6.64,"e":-3.385},{"L":0.007,"k":15,"x":6.45,"e":-3.267},
{"L":0.006,"k":0,"x":6.64,"e":-3.232},{"L":0.006,"k":1,"x":6.70,"e":-3.115},{"L":0.006,"k":2,"x":6.89,"e":-2.998},{"L":0.006,"k":3,"x":7.17,"e":-2.887},{"L":0.006,"k":4,"x":7.51,"e":-2.797},{"L":0.006,"k":5,"x":8.07,"e":-2.804},{"L":0.006,"k":6,"x":8.76,"e":-2.887},{"L":0.006,"k":7,"x":9.25,"e":-2.970},{"L":0.006,"k":8,"x":9.44,"e":-3.129},{"L":0.006,"k":9,"x":9.41,"e":-3.219},{"L":0.006,"k":10,"x":9.19,"e":-3.315},{"L":0.006,"k":11,"x":8.69,"e":-3.405},{"L":0.006,"k":12,"x":8.04,"e":-3.440},{"L":0.006,"k":13,"x":7.51,"e":-3.440},{"L":0.006,"k":14,"x":7.08,"e":-3.412},{"L":0.006,"k":15,"x":6.77,"e":-3.343},
{"L":0.005,"k":0,"x":6.83,"e":-3.129},{"L":0.005,"k":1,"x":6.98,"e":-2.977},{"L":0.005,"k":2,"x":7.26,"e":-2.887},{"L":0.005,"k":3,"x":7.57,"e":-2.866},{"L":0.005,"k":4,"x":8.01,"e":-2.901},{"L":0.005,"k":5,"x":8.51,"e":-2.956},{"L":0.005,"k":6,"x":8.94,"e":-3.012},{"L":0.005,"k":7,"x":9.13,"e":-3.129},{"L":0.005,"k":8,"x":9.10,"e":-3.198},{"L":0.005,"k":9,"x":8.97,"e":-3.267},{"L":0.005,"k":10,"x":8.63,"e":-3.350},{"L":0.005,"k":11,"x":8.13,"e":-3.385},{"L":0.005,"k":12,"x":7.67,"e":-3.385},{"L":0.005,"k":13,"x":7.26,"e":-3.357},{"L":0.005,"k":14,"x":6.95,"e":-3.287},{"L":0.005,"k":15,"x":6.83,"e":-3.198},
{"L":0.004,"k":0,"x":7.29,"e":-3.005},{"L":0.004,"k":1,"x":7.26,"e":-2.956},{"L":0.004,"k":2,"x":7.14,"e":-2.935},{"L":0.004,"k":3,"x":7.01,"e":-2.956},{"L":0.004,"k":4,"x":6.98,"e":-3.005},{"L":0.004,"k":5,"x":7.05,"e":-3.053},{"L":0.004,"k":6,"x":7.17,"e":-3.074},{"L":0.004,"k":7,"x":7.26,"e":-3.046}
],
"mbar": [
{"lo":0.04782,"hi":0.048},{"lo":0.048,"hi":0.050},{"lo":0.050,"hi":0.052},{"lo":0.052,"hi":0.054},{"lo":0.054,"hi":0.056},{"lo":0.056,"hi":0.058},{"lo":0.058,"hi":0.060},{"lo":0.060,"hi":0.062},{"lo":0.062,"hi":0.064},{"lo":0.064,"hi":0.066},{"lo":0.066,"hi":0.068},{"lo":0.068,"hi":0.070},{"lo":0.070,"hi":0.072},{"lo":0.072,"hi":0.074},{"lo":0.074,"hi":0.076},{"lo":0.076,"hi":0.078},{"lo":0.078,"hi":0.080},{"lo":0.080,"hi":0.082},{"lo":0.082,"hi":0.084},{"lo":0.084,"hi":0.086},{"lo":0.086,"hi":0.088},{"lo":0.088,"hi":0.090},{"lo":0.090,"hi":0.092},{"lo":0.092,"hi":0.094},{"lo":0.094,"hi":0.09543}
],
"sbar": [
{"lo":0.002945,"hi":0.003},{"lo":0.003,"hi":0.004},{"lo":0.004,"hi":0.005},{"lo":0.005,"hi":0.006},{"lo":0.006,"hi":0.007},{"lo":0.007,"hi":0.008},{"lo":0.008,"hi":0.009},{"lo":0.009,"hi":0.010},{"lo":0.010,"hi":0.011},{"lo":0.011,"hi":0.012},{"lo":0.012,"hi":0.013},{"lo":0.013,"hi":0.014},{"lo":0.014,"hi":0.015},{"lo":0.015,"hi":0.016},{"lo":0.016,"hi":0.017},{"lo":0.017,"hi":0.018},{"lo":0.018,"hi":0.019},{"lo":0.019,"hi":0.020},{"lo":0.020,"hi":0.021},{"lo":0.021,"hi":0.022},{"lo":0.022,"hi":0.022841}
]
},
"spacing": 28,
"resolve": {"scale": {"fill": "independent"}},
"hconcat": [
{"spacing": 3, "resolve": {"scale": {"fill": "independent"}}, "hconcat": [
 {"width": 321.5, "height": 289.3, "title": {"text": "Mean"}, "view": {"fill": "#f7fcfd"},
  "layer": [
   {"data": {"name": "mc"}, "mark": {"type": "line", "interpolate": "cardinal-closed", "stroke": "#333333", "strokeWidth": 0.8, "strokeOpacity": 0.7, "clip": true},
    "encoding": {
     "x": {"field": "x", "type": "quantitative", "scale": {"domain": [0, 10], "nice": false, "zero": false}, "axis": {"values": [2,4,6,8,10], "labelFlush": false, "ticks": false, "domain": false, "grid": false, "labelFontSize": 12, "labelColor": "#2a3f5f", "labelPadding": 2, "title": "guide_maxscale", "titleFontSize": 14, "titleFontWeight": "normal", "titleColor": "#2a3f5f", "titlePadding": 10}},
     "y": {"field": "e", "type": "quantitative", "scale": {"domain": [-4, -2], "nice": false, "zero": false}, "axis": {"values": [-4,-3.69897,-3.52288,-3.39794,-3.30103,-3.22185,-3.1549,-3.09691,-3.04576,-3,-2.69897,-2.52288,-2.39794,-2.30103,-2.22185,-2.1549,-2.09691,-2.04576,-2], "tickCount": 100, "labelExpr": "datum.value == -2 ? '0.01' : datum.value == -3 ? '1e\u22123' : datum.value == -4 ? '1e\u22124' : format(round(pow(10, datum.value - floor(datum.value))), 'd')", "labelFontSize": {"condition": {"test": "datum.value == -2 || datum.value == -3 || datum.value == -4", "value": 12}, "value": 9}, "labelOverlap": false, "ticks": false, "domain": false, "grid": false, "labelColor": "#2a3f5f", "labelPadding": 3, "title": "learning_rate", "titleFontSize": 14, "titleFontWeight": "normal", "titleColor": "#2a3f5f", "titlePadding": 18}},
     "detail": {"field": "L", "type": "nominal"},
     "order": {"field": "k", "type": "quantitative"},
     "fill": {"field": "L", "type": "quantitative", "scale": {"domain": [0.04682, 0.052771, 0.058722, 0.064674, 0.070625, 0.076576, 0.082527, 0.088479, 0.09443], "range": ["#f7fcfd","#e5f5f9","#ccece6","#99d8c9","#66c2a4","#41ae76","#238b45","#006d2c","#00441b"]}, "legend": null}
    }},
   {"data": {"name": "pts"}, "mark": {"type": "point", "filled": true, "size": 36, "color": "black", "opacity": 0.5, "strokeWidth": 0, "clip": true},
    "encoding": {
     "x": {"field": "x", "type": "quantitative"},
     "y": {"field": "e", "type": "quantitative"},
     "shape": {"datum": "In-sample", "scale": {"range": ["square"]}, "legend": {"orient": "none", "legendX": -25, "legendY": 368, "title": null, "padding": 0, "labelFont": "Open Sans", "labelFontSize": 12, "labelColor": "#2a3f5f", "symbolFillColor": "black", "symbolOpacity": 0.5, "symbolStrokeWidth": 0, "symbolSize": 50, "labelOffset": 12}}
    }}
  ]},
 {"width": 28.6, "height": 289.3,
  "layer": [
   {"data": {"name": "mbar"}, "mark": {"type": "rect"},
    "encoding": {
     "x": {"datum": 0, "type": "quantitative", "scale": {"domain": [0, 1], "nice": false}, "axis": null},
     "x2": {"datum": 1},
     "y": {"field": "lo", "type": "quantitative", "scale": {"domain": [0.04587, 0.0972], "nice": false, "zero": false}, "axis": {"orient": "right", "values": [0.05,0.06,0.07,0.08,0.09], "format": "~g", "ticks": false, "domain": false, "grid": false, "labelFontSize": 9, "labelColor": "#2a3f5f", "labelPadding": 3, "title": null}},
     "y2": {"field": "hi"},
     "fill": {"field": "lo", "type": "quantitative", "scale": {"domain": [0.04682, 0.052771, 0.058722, 0.064674, 0.070625, 0.076576, 0.082527, 0.088479, 0.09443], "range": ["#f7fcfd","#e5f5f9","#ccece6","#99d8c9","#66c2a4","#41ae76","#238b45","#006d2c","#00441b"]}, "legend": null}
    }},
   {"data": {"name": "mbar"}, "transform": [{"filter": "datum.lo >= 0.048 && datum.lo < 0.0949"}], "mark": {"type": "rule", "stroke": "#333333", "strokeWidth": 0.8, "strokeOpacity": 0.6},
    "encoding": {"y": {"field": "lo", "type": "quantitative"}}}
  ]}
]},
{"spacing": 3, "resolve": {"scale": {"fill": "independent"}}, "hconcat": [
 {"width": 321.5, "height": 289.3, "title": {"text": "Standard Error"}, "view": {"fill": "#02395a"},
  "layer": [
   {"data": {"name": "sc"}, "mark": {"type": "line", "interpolate": "cardinal-closed", "stroke": "#1a1a1a", "strokeWidth": 0.8, "strokeOpacity": 0.7, "clip": true},
    "encoding": {
     "x": {"field": "x", "type": "quantitative", "scale": {"domain": [0, 10], "nice": false, "zero": false}, "axis": {"values": [2,4,6,8,10], "labelFlush": false, "ticks": false, "domain": false, "grid": false, "labelFontSize": 12, "labelColor": "#2a3f5f", "labelPadding": 2, "title": "guide_maxscale", "titleFontSize": 14, "titleFontWeight": "normal", "titleColor": "#2a3f5f", "titlePadding": 10}},
     "y": {"field": "e", "type": "quantitative", "scale": {"domain": [-4, -2], "nice": false, "zero": false}, "axis": {"values": [-4,-3.69897,-3.52288,-3.39794,-3.30103,-3.22185,-3.1549,-3.09691,-3.04576,-3,-2.69897,-2.52288,-2.39794,-2.30103,-2.22185,-2.1549,-2.09691,-2.04576,-2], "tickCount": 100, "labelExpr": "datum.value == -2 ? '0.01' : datum.value == -3 ? '1e\u22123' : datum.value == -4 ? '1e\u22124' : format(round(pow(10, datum.value - floor(datum.value))), 'd')", "labelFontSize": {"condition": {"test": "datum.value == -2 || datum.value == -3 || datum.value == -4", "value": 12}, "value": 9}, "labelOverlap": false, "ticks": false, "domain": false, "grid": false, "labelColor": "#2a3f5f", "labelPadding": 3, "title": null}},
     "detail": {"field": "L", "type": "nominal"},
     "order": {"field": "k", "type": "quantitative"},
     "fill": {"field": "L", "type": "quantitative", "scale": {"domain": [0.003445, 0.005932, 0.008419, 0.010906, 0.013393, 0.01588, 0.018367, 0.020854, 0.023341], "range": ["#fff7fb","#ece7f2","#d0d1e6","#a6bddb","#74a9cf","#3690c0","#0570b0","#045a8d","#023858"]}, "legend": null}
    }},
   {"data": {"name": "pts"}, "mark": {"type": "square", "size": 36, "color": "black", "opacity": 0.5, "strokeWidth": 0, "clip": true},
    "encoding": {
     "x": {"field": "x", "type": "quantitative"},
     "y": {"field": "e", "type": "quantitative"}
    }}
  ]},
 {"width": 28.6, "height": 289.3,
  "layer": [
   {"data": {"name": "sbar"}, "mark": {"type": "rect"},
    "encoding": {
     "x": {"datum": 0, "type": "quantitative", "scale": {"domain": [0, 1], "nice": false}, "axis": null},
     "x2": {"datum": 1},
     "y": {"field": "lo", "type": "quantitative", "scale": {"domain": [0.002129, 0.023583], "nice": false, "zero": false}, "axis": {"orient": "right", "values": [0.005,0.01,0.015,0.02], "format": "~g", "ticks": false, "domain": false, "grid": false, "labelFontSize": 9, "labelColor": "#2a3f5f", "labelPadding": 3, "title": null}},
     "y2": {"field": "hi"},
     "fill": {"field": "hi", "type": "quantitative", "scale": {"domain": [0.003445, 0.005932, 0.008419, 0.010906, 0.013393, 0.01588, 0.018367, 0.020854, 0.023341], "range": ["#fff7fb","#ece7f2","#d0d1e6","#a6bddb","#74a9cf","#3690c0","#0570b0","#045a8d","#023858"]}, "legend": null}
    }},
   {"data": {"name": "sbar"}, "transform": [{"filter": "datum.lo >= 0.003 && datum.lo < 0.0224"}], "mark": {"type": "rule", "stroke": "#333333", "strokeWidth": 0.8, "strokeOpacity": 0.6},
    "encoding": {"y": {"field": "lo", "type": "quantitative"}}}
  ]}
]}
]
}
